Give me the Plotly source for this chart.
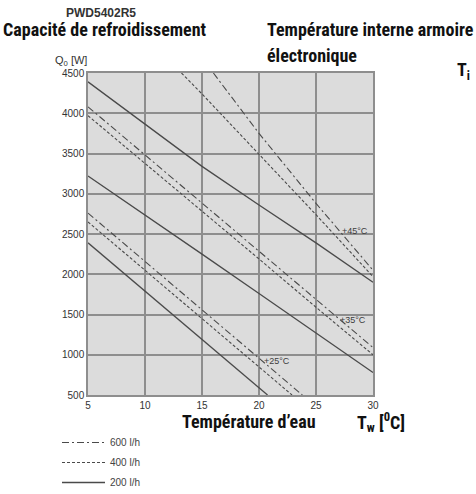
import plotly.graph_objects as go

# ---- data ----
flow_labels = ["600 l/h", "400 l/h", "200 l/h"]
internal_temps = ["+45°C", "+35°C", "+25°C"]

# 45 °C
t45_600 = [16.0, 20, 25, 30]
q45_600 = [4500, 3750, 2880, 2050]
t45_400 = [13.2, 15, 20, 25, 30]
q45_400 = [4500, 4240, 3490, 2740, 1970]
t45_200 = [5, 10, 15, 20, 25, 30]
q45_200 = [4390, 3870, 3340, 2860, 2390, 1900]

# 35 °C
t35_600 = [5, 10, 15, 20, 25, 30]
q35_600 = [4080, 3480, 2880, 2290, 1690, 1090]
t35_400 = [5, 10, 15, 20, 25, 30]
q35_400 = [3970, 3380, 2780, 2190, 1590, 1000]
t35_200 = [5, 10, 15, 20, 25, 30]
q35_200 = [3220, 2740, 2250, 1760, 1270, 780]

# 25 °C
t25_600 = [5, 10, 15, 20, 23.8]
q25_600 = [2760, 2160, 1560, 960, 500]
t25_400 = [5, 10, 15, 20, 22.9]
q25_400 = [2650, 2050, 1450, 850, 500]
t25_200 = [5, 10, 15, 20, 20.75]
q25_200 = [2390, 1790, 1190, 590, 500]

# curve labels position (water temp, capacity)
label_t = [27.1, 26.9, 20.3]
label_q = [2537, 1432, 923]

x_ticks = [5, 10, 15, 20, 25, 30]
y_ticks = [500, 1000, 1500, 2000, 2500, 3000, 3500, 4000, 4500]

# ---- styles ----
LINE_COL = "#4a4a4a"
dash_styles = {"600 l/h": "7px,3px,2px,3px", "400 l/h": "3px,2px", "200 l/h": "solid"}
widths = {"600 l/h": 1.1, "400 l/h": 1.1, "200 l/h": 1.3}

curves = [
    ("600 l/h", t45_600, q45_600, True),
    ("400 l/h", t45_400, q45_400, True),
    ("200 l/h", t45_200, q45_200, True),
    ("600 l/h", t35_600, q35_600, False),
    ("400 l/h", t35_400, q35_400, False),
    ("200 l/h", t35_200, q35_200, False),
    ("600 l/h", t25_600, q25_600, False),
    ("400 l/h", t25_400, q25_400, False),
    ("200 l/h", t25_200, q25_200, False),
]

fig = go.Figure()
for name, xs, ys, show in curves:
    fig.add_trace(go.Scatter(
        x=xs, y=ys, mode="lines", name=name, legendgroup=name,
        showlegend=show,
        line=dict(color=LINE_COL, width=widths[name], dash=dash_styles[name]),
        hoverinfo="skip",
    ))

for txt, tx, qy in zip(internal_temps, label_t, label_q):
    fig.add_annotation(x=tx, y=qy, xref="x", yref="y", text=txt, showarrow=False,
                       xanchor="left", yanchor="middle",
                       font=dict(family="Liberation Sans, Arial, sans-serif", size=9, color="#3c3c3c"))

L, R, T, B = 88, 373, 73, 395
def px(x):
    return (x - L) / (R - L)
def py(y):
    return (B - y) / (B - T)

TITLE_FONT = ("Roboto Condensed, DejaVu Sans Condensed, Liberation Sans Narrow, "
              "Arial Narrow, sans-serif")

def note(text, x, y, size, family=TITLE_FONT, color="#111", bold=True, anchor="left"):
    if bold:
        text = "<b>" + text + "</b>"
    fig.add_annotation(x=px(x), y=py(y), xref="paper", yref="paper", text=text,
                       showarrow=False, xanchor=anchor, yanchor="middle",
                       font=dict(family=family, size=size, color=color))

note("PWD5402R5", 64, 13, 12, family="Liberation Sans, Arial, sans-serif", color="#333")
note("Capacité de refroidissement", 1, 30, 18)
note("Température interne armoire", 265, 30, 18)
note("électronique", 265, 56, 18)
note("T<sub>i</sub>", 472, 71, 18, anchor="right")
note("Q<sub>0</sub> [W]", 53, 61, 11, family="Liberation Sans, Arial, sans-serif", color="#333", bold=False)
note("Température d’eau", 180, 421, 18)
note("T<sub>w</sub> [<sup>0</sup>C]", 355, 422, 18)

GRID = "#8e8e8e"
axis_common = dict(showgrid=True, gridcolor=GRID, gridwidth=1.5, showline=True,
                   linecolor=GRID, linewidth=1.5, mirror=True, ticks="", zeroline=False,
                   tickfont=dict(family="Liberation Sans, Arial, sans-serif", size=10, color="#333"))

fig.update_layout(
    width=476, height=494, autosize=False,
    margin=dict(l=L, r=476 - R, t=T, b=494 - B, autoexpand=False),
    paper_bgcolor="white", plot_bgcolor="#dcdcdc",
    xaxis=dict(range=[5, 30], tickvals=x_ticks, **axis_common),
    yaxis=dict(range=[500, 4500], tickvals=y_ticks, **axis_common),
    legend=dict(x=px(57), y=py(428), xanchor="left", yanchor="top",
                bgcolor="rgba(0,0,0,0)", tracegroupgap=1, itemwidth=43,
                font=dict(family="Liberation Sans, Arial, sans-serif", size=10, color="#444")),
    showlegend=True,
)

fig.write_html("out.html", config={"displayModeBar": False},
               post_script="document.body.style.margin='0px';")
